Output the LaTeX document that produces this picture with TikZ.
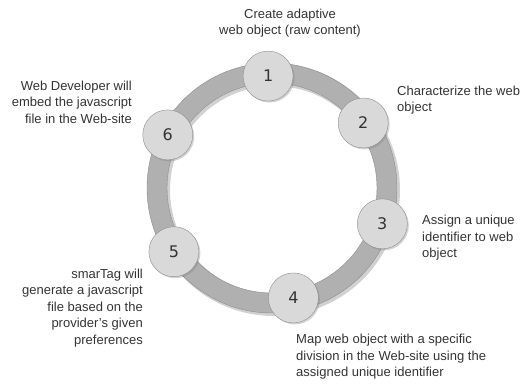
\documentclass[tikz,border=0pt]{standalone}
\usepackage{fontspec}
\setmainfont{Liberation Sans}
\newfontfamily\numfont{DejaVu Sans}
\usetikzlibrary{calc,shadows}
\definecolor{ringgray}{HTML}{B0B0B0}
\definecolor{ringedge}{HTML}{8C8C8C}
\definecolor{discgray}{HTML}{D9D9D9}
\definecolor{txtgray}{HTML}{333333}
\tikzset{
  disc/.style={draw=ringedge,fill=discgray,circle,minimum size=50pt,inner sep=0pt,
    font=\numfont\fontsize{16}{16}\selectfont,text=txtgray,
    drop shadow={shadow xshift=1.5pt,shadow yshift=-1.5pt,opacity=0.35}},
  note/.style={font=\fontsize{13}{16.6}\selectfont,text=txtgray,inner sep=0pt}
}

\begin{document}
\begin{tikzpicture}[x=1pt,y=1pt]
  \useasboundingbox (0,0) rectangle (524,383);
  \coordinate (c) at (272,195);
  % ring
  \fill[black,opacity=0.18,even odd rule] ($(c)+(2,-2)$) circle (126) ($(c)+(2,-2)$) circle (104);
  \fill[ringgray,even odd rule] (c) circle (125) (c) circle (105);
  \draw[ringedge] (c) circle (125);
  \draw[ringedge] (c) circle (105);
  % steps
  \node[disc] (st1) at ($(c)+(92:112)$) {1};
  \node[disc] (st2) at ($(c)+(35.5:112)$) {2};
  \node[disc] (st3) at ($(c)+(-18:116)$) {3};
  \node[disc] (st4) at ($(c)+(-79:112)$) {4};
  \node[disc] (st5) at ($(c)+(-147:117)$) {5};
  \node[disc] (st6) at ($(c)+(153:117)$) {6};
  % labels
  \node[note,align=center] (lb1) at (290,360) {Create adaptive\\web object (raw content)};
  \node[note,align=left,anchor=west] (lb2) at (397,283) {Characterize the web\\object};
  \node[note,align=left,anchor=west] (lb3) at (422,145) {Assign a unique\\identifier to web\\object};
  \node[note,align=left,anchor=west] (lb4) at (296,26) {Map web object with a specific\\division in the Web-site using the\\assigned unique identifier};
  \node[note,align=right,anchor=east] (lb5) at (143,75) {smarTag will\\generate a javascript\\file based on the\\provider's given\\preferences};
  \node[note,align=right,anchor=east] (lb6) at (132,281) {Web Developer will\\embed the javascript\\file in the Web-site};
\end{tikzpicture}
\end{document}
